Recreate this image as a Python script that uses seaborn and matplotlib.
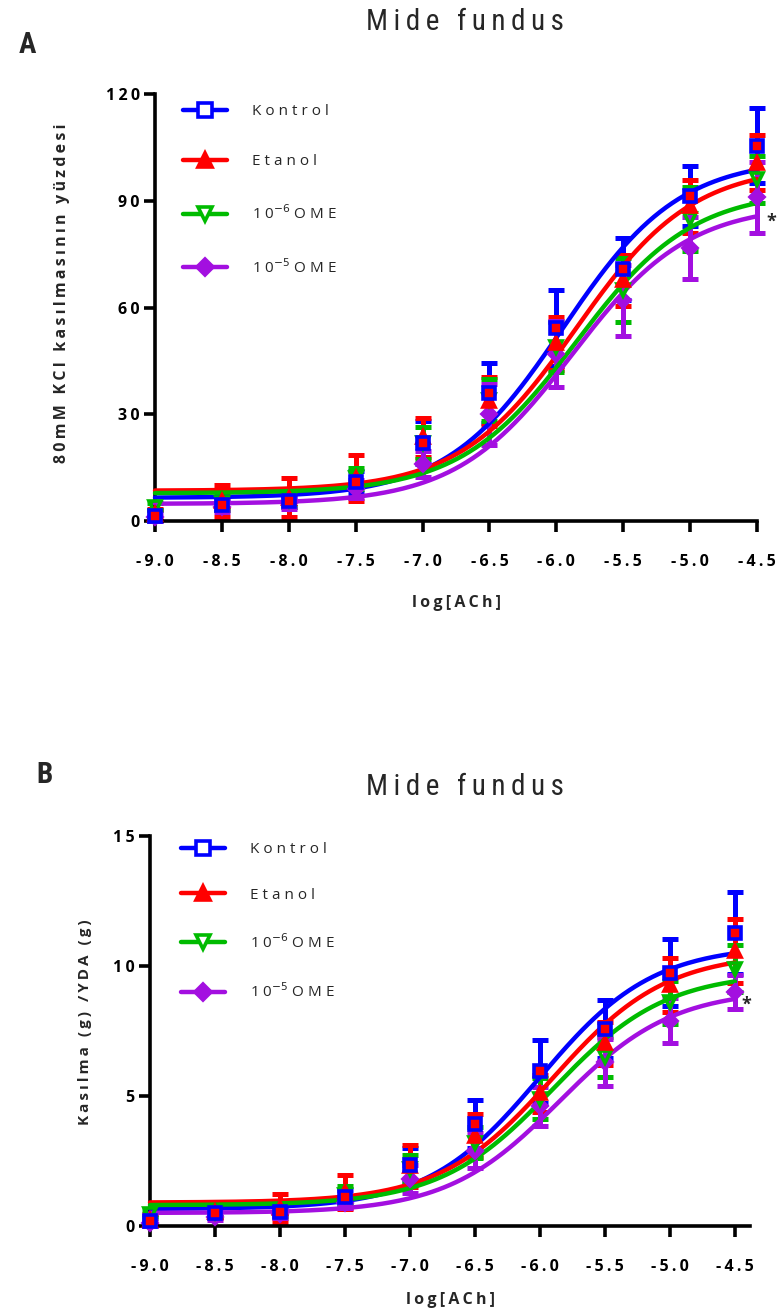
import numpy as np
import pandas as pd
import seaborn as sns
import matplotlib.pyplot as plt
from matplotlib import font_manager
from matplotlib.lines import Line2D

sns.set_style('ticks')
plt.rcParams['font.family'] = ['Open Sans', 'DejaVu Sans']
plt.rcParams['mathtext.fontset'] = 'dejavusans'

# ---- data ----
log_ach = [-9.0, -8.5, -8.0, -7.5, -7.0, -6.5, -6.0, -5.5, -5.0, -4.5]
groups = ['Kontrol', 'Etanol', '10-6 OME', '10-5 OME']

# panel A: % of 80mM KCl contraction (mean, SEM)
a_kontrol = [1.5, 4.5, 5.5, 11.0, 22.0, 36.0, 54.3, 70.8, 91.4, 105.5]
a_kontrol_sem = [1.5, 1.5, 1.5, 3.0, 6.0, 8.4, 10.6, 8.7, 8.4, 10.5]
a_etanol = [2.0, 5.5, 6.5, 12.0, 23.5, 33.6, 49.9, 67.6, 88.4, 100.7]
a_etanol_sem = [1.5, 4.5, 5.5, 6.5, 5.5, 6.9, 7.5, 7.2, 7.4, 7.7]
a_ome6 = [4.0, 5.0, 6.0, 12.0, 22.0, 34.0, 49.0, 65.0, 85.0, 96.0]
a_ome6_sem = [1.0, 2.0, 2.0, 3.0, 4.5, 6.0, 7.0, 9.0, 9.0, 6.5]
a_ome5 = [1.0, 4.0, 5.0, 9.0, 16.0, 30.0, 47.0, 62.0, 76.7, 91.0]
a_ome5_sem = [1.0, 1.5, 1.5, 2.5, 3.6, 8.6, 9.3, 10.0, 8.7, 10.0]

# panel B: contraction (g) / wet tissue weight (g)
b_kontrol = [0.20, 0.50, 0.55, 1.10, 2.35, 3.92, 5.95, 7.57, 9.74, 11.28]
b_kontrol_sem = [0.20, 0.15, 0.15, 0.30, 0.65, 0.92, 1.22, 1.12, 1.28, 1.58]
b_etanol = [0.25, 0.55, 0.70, 1.30, 2.30, 3.48, 5.10, 7.03, 9.26, 10.58]
b_etanol_sem = [0.20, 0.25, 0.55, 0.65, 0.80, 0.82, 0.70, 0.83, 1.04, 1.22]
b_ome6 = [0.45, 0.55, 0.60, 1.20, 2.20, 3.20, 4.90, 6.50, 8.60, 9.90]
b_ome6_sem = [0.15, 0.20, 0.25, 0.35, 0.55, 0.60, 0.80, 0.76, 0.83, 0.90]
b_ome5 = [0.10, 0.35, 0.45, 0.90, 1.80, 2.90, 4.60, 6.30, 7.90, 9.00]
b_ome5_sem = [0.10, 0.12, 0.15, 0.22, 0.53, 0.67, 0.75, 0.90, 0.87, 0.65]

# fitted sigmoid curves (bottom, top, logEC50)
a_bottom = [6.5, 8.5, 7.8, 4.8]
a_top = [102.0, 100.0, 93.0, 89.0]
a_logec50 = [-5.95, -5.85, -5.85, -5.88]
b_bottom = [0.65, 0.90, 0.80, 0.50]
b_top = [10.8, 10.5, 9.75, 9.1]
b_logec50 = [-6.0, -5.9, -5.9, -5.85]

colors = ['#0000ff', '#ff0000', '#00bb00', '#a30fe0']
markers = ['s', '^', 'v', 'D']
# face colours of the markers inside the plot (Kontrol squares show red centres)
plot_faces = ['#ff0000', '#ff0000', 'none', '#a30fe0']
legend_faces = ['white', '#ff0000', 'white', '#a30fe0']
legend_labels = ['K o n t r o l', 'E t a n o l',
                 r'1 0$^{-6}$ O M E', r'1 0$^{-5}$ O M E']


def sp(s, gap='\u2009'):
    return gap.join(s)


# a narrow face for the titles, if one is installed
names = {f.name for f in font_manager.fontManager.ttflist}
narrow = [n for n in ['Liberation Sans Narrow', 'Roboto Condensed', 'Open Sans Condensed']
          if n in names] + ['DejaVu Sans']

W, H = 778, 1315
fig = plt.figure(figsize=(W / 100, H / 100), dpi=100)


def draw_panel(ax, means, sems, bottoms, tops, ec50s, ylim, yticks, xmax, star_xy):
    # curves
    xs = np.linspace(-9.0, -4.5, 200)
    rows = []
    for g, b, t, e in zip(groups, bottoms, tops, ec50s):
        ys = b + (t - b) / (1 + 10 ** (e - xs))
        rows.append(pd.DataFrame({'x': xs, 'y': ys, 'group': g}))
    curves = pd.concat(rows)
    sns.lineplot(data=curves, x='x', y='y', hue='group', palette=colors,
                 hue_order=groups, linewidth=3.2, legend=False, ax=ax, zorder=3)
    for l in ax.lines:
        l.set_clip_on(False)

    # error bars then markers
    for i in range(4):
        ax.errorbar(log_ach, means[i], yerr=sems[i], fmt='none', ecolor=colors[i],
                    elinewidth=3.6, capsize=5.5, capthick=3.6, clip_on=False, zorder=2 + i * 0.1)
    for i in [3, 2, 1, 0]:
        ax.plot(log_ach, means[i], linestyle='none', marker=markers[i],
                ms=9 if markers[i] != 'D' else 7.5,
                mfc=plot_faces[i], mec=colors[i], mew=2.6,
                clip_on=False, zorder=5)

    ax.set_xlim(-9.0, xmax)
    ax.set_ylim(*ylim)
    ax.set_xticks(log_ach)
    ax.set_xticklabels([sp(f'{v:.1f}') for v in log_ach], fontweight='bold', fontsize=11.5)
    ax.set_yticks(yticks)
    ax.set_yticklabels([sp(str(v)) for v in yticks], fontweight='bold', fontsize=11.5)
    ax.tick_params(axis='x', length=8, width=2.6, pad=16, colors='black')
    ax.tick_params(axis='y', length=8, width=2.6, pad=3, colors='black')
    for s in ['left', 'bottom']:
        ax.spines[s].set_linewidth(2.6)
        ax.spines[s].set_color('black')
    sns.despine(ax=ax)
    ax.set_xlabel('')
    ax.set_ylabel('')
    ax.text(star_xy[0], star_xy[1], '*', fontsize=13, fontweight='bold', clip_on=False,
            ha='center', va='center')


def draw_legend(ax, anchor, spacing):
    handles = []
    for i in range(4):
        handles.append(Line2D([0], [0], color=colors[i], lw=3.2, marker=markers[i],
                              ms=10 if markers[i] != 'D' else 8,
                              mfc=legend_faces[i], mec=colors[i], mew=2.6))
    ax.legend(handles, legend_labels, loc='upper left', bbox_to_anchor=anchor,
              bbox_transform=fig.transFigure, frameon=False, fontsize=11,
              handlelength=2.9, handletextpad=1.6, labelspacing=spacing,
              borderpad=0, borderaxespad=0)


# panel A
axA = fig.add_axes([155 / W, 1 - 521 / H, 602 / W, 427 / H])
draw_panel(axA, [a_kontrol, a_etanol, a_ome6, a_ome5],
           [a_kontrol_sem, a_etanol_sem, a_ome6_sem, a_ome5_sem],
           a_bottom, a_top, a_logec50, (0, 120), [0, 30, 60, 90, 120], -4.5, (-4.39, 84))
draw_legend(axA, (183 / W, 1 - 104 / H), 2.3)

# panel B
axB = fig.add_axes([150 / W, 1 - 1226 / H, 600 / W, 390 / H])
draw_panel(axB, [b_kontrol, b_etanol, b_ome6, b_ome5],
           [b_kontrol_sem, b_etanol_sem, b_ome6_sem, b_ome5_sem],
           b_bottom, b_top, b_logec50, (0, 15), [0, 5, 10, 15], -4.385, (-4.41, 8.5))
draw_legend(axB, (181 / W, 1 - 842 / H), 2.0)

# titles, panel letters and axis labels
for y, letter, lx, ly in [(22, 'A', 27, 45), (787, 'B', 45, 775)]:
    fig.text(465 / W, 1 - y / H, sp('Mide fundus'), fontsize=21, family=narrow,
             fontstretch='condensed', ha='center', va='center')
    fig.text(lx / W, 1 - ly / H, letter, fontsize=21, fontweight='bold', family=narrow,
             fontstretch='condensed', ha='center', va='center')

fig.text(62 / W, 1 - 293 / H, sp('80mM KCl kasılmasının yüzdesi'), rotation=90,
         fontsize=11.5, fontweight='bold', ha='center', va='center')
fig.text(85 / W, 1 - 1022 / H, sp('Kasılma (g) /YDA (g)'), rotation=90,
         fontsize=11, fontweight='bold', ha='center', va='center')
fig.text(457 / W, 1 - 603 / H, sp('log[ACh]'), fontsize=11.5, fontweight='bold',
         ha='center', va='center')
fig.text(450 / W, 1 - 1300 / H, sp('log[ACh]'), fontsize=11.5, fontweight='bold',
         ha='center', va='center')

fig.savefig('out.png', dpi=100)
